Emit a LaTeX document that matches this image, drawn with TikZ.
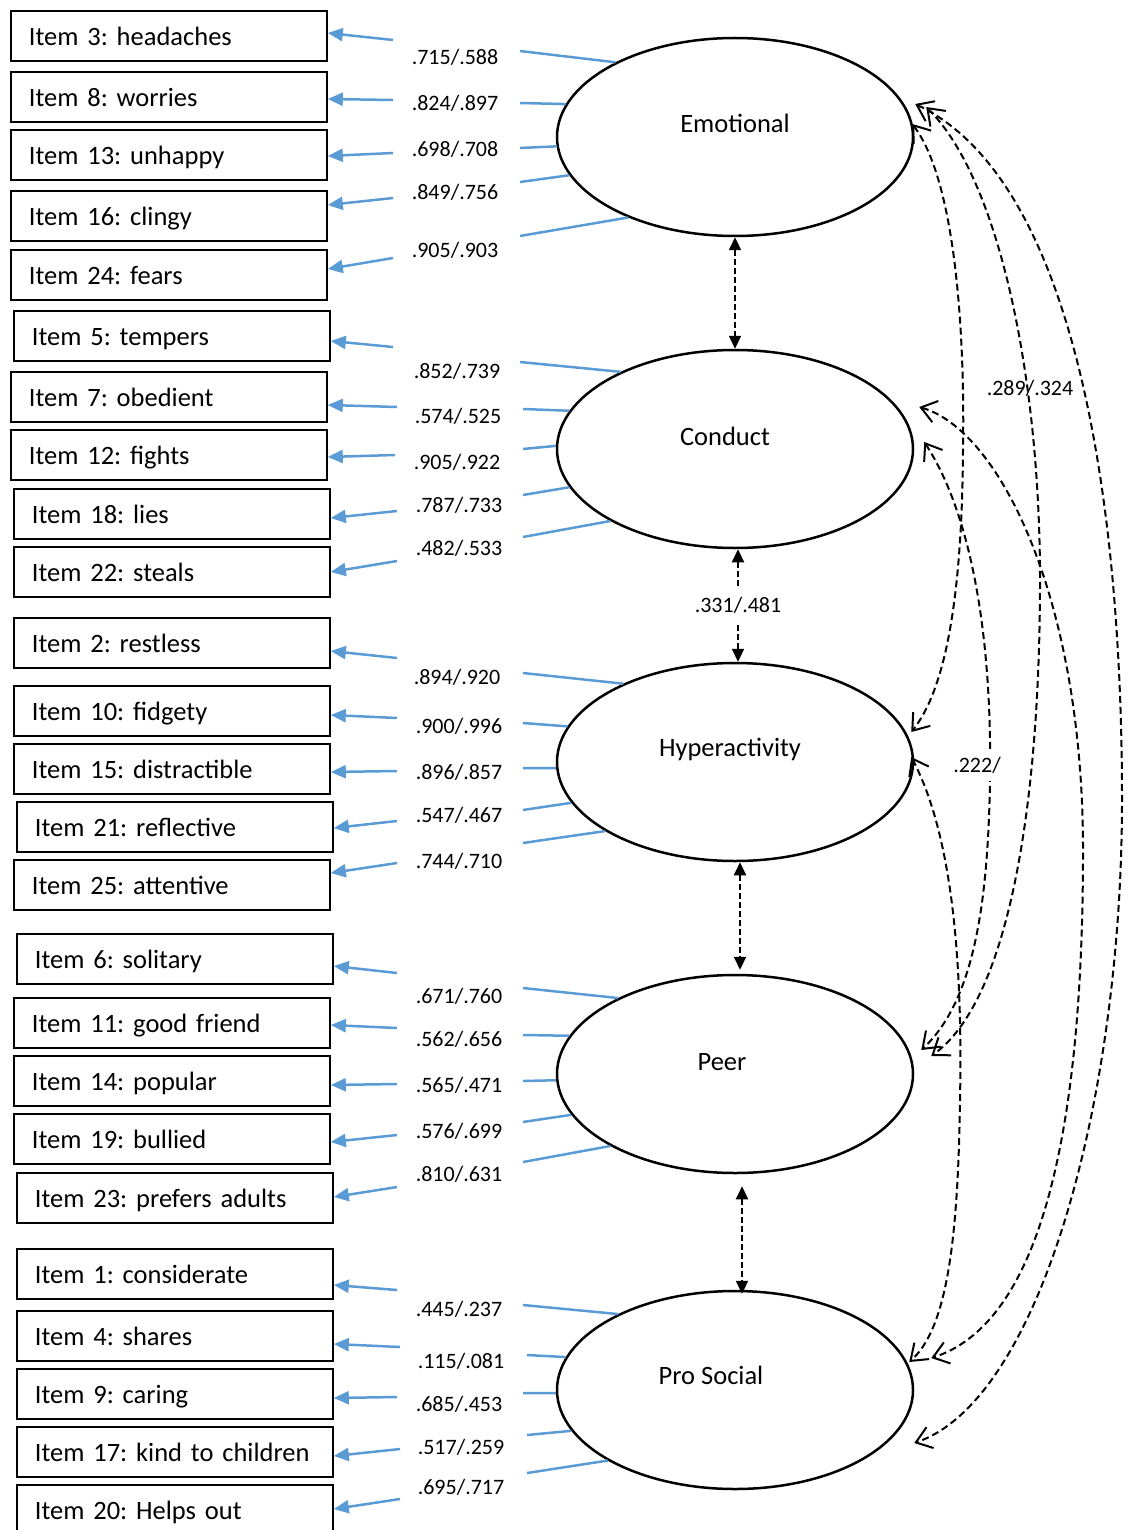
\documentclass[tikz,border=0pt]{standalone}
\usepackage{fontspec}
\setmainfont{Carlito}
\usetikzlibrary{arrows.meta,shapes.geometric,calc}
\definecolor{lblue}{HTML}{5B9BD5}
\frenchspacing
\begin{document}
\frenchspacing
\begin{tikzpicture}[x=1pt,y=-1pt,
  itembox/.style={draw, line width=1.8pt, minimum height=50pt, text width=280pt, align=left, inner xsep=18pt, inner ysep=0pt, anchor=north west, text height=21pt, text depth=1pt, font=\fontsize{26.5}{30}\selectfont},
  lat/.style={ellipse, draw, line width=2.5pt, minimum width=356pt, minimum height=198pt, inner sep=0pt},
  latlbl/.style={font=\fontsize{26.5}{30}\selectfont},
  load/.style={lblue, line width=2.5pt},
  loadarr/.style={lblue, line width=2.5pt, -{Triangle[length=15pt,width=13pt]}},
  coef/.style={font=\fontsize{22}{26}\selectfont, inner sep=1pt},
  vcov/.style={black, line width=2.2pt, dash pattern=on 6pt off 3pt, {Triangle[length=13pt,width=12pt]}-{Triangle[length=13pt,width=12pt]}},
  cov/.style={black, line width=2pt, dash pattern=on 7pt off 4pt, {Straight Barb[length=15pt,width=22pt]}-{Straight Barb[length=15pt,width=22pt]}}
]
\useasboundingbox (0,0) rectangle (1130,1530);

% latent variables
\node[lat] (emo)  at (735,137)  {};
\node[lat] (con)  at (735,449)  {};
\node[lat] (hyp)  at (735,762)  {};
\node[lat] (peer) at (735,1074) {};
\node[lat] (pro)  at (735,1390) {};
\node[latlbl] (emoT)  at (735,123)  {Emotional};
\node[latlbl] (conT)  at (725,436)  {Conduct};
\node[latlbl] (hypT)  at (730,749)  {Hyperactivity};
\node[latlbl] (peerT) at (722,1062) {Peer};
\node[latlbl] (proT)  at (711,1375) {Pro Social};

% item boxes
\foreach \n/\bx/\by/\txt in {
 3/10/10/{Item 3: headaches}, 8/10/71/{Item 8: worries}, 13/10/129/{Item 13: unhappy},
 16/10/190/{Item 16: clingy}, 24/10/249/{Item 24: fears},
 5/13/310/{Item 5: tempers}, 7/10/371/{Item 7: obedient}, 12/10/429/{Item 12: fights},
 18/13/488/{Item 18: lies}, 22/13/546/{Item 22: steals},
 2/13/617/{Item 2: restless}, 10/13/685/{Item 10: fidgety}, 15/13/743/{Item 15: distractible},
 21/16/801/{Item 21: reflective}, 25/13/859/{Item 25: attentive},
 6/16/933/{Item 6: solitary}, 11/13/997/{Item 11: good friend}, 14/13/1055/{Item 14: popular},
 19/13/1113/{Item 19: bullied}, 23/16/1172/{Item 23: prefers adults},
 1/16/1248/{Item 1: considerate}, 4/16/1310/{Item 4: shares}, 9/16/1368/{Item 9: caring},
 17/16/1426/{Item 17: kind to children}, 20/16/1484/{Item 20: Helps out}}
 {\node[itembox] (b\n) at (\bx,\by) {\txt};}

% loadings
\foreach \n/\lat/\ang/\bxx/\byy/\cx/\cy/\dy/\lx/\ly/\val in {
 3/emo/148/520/51/393/40/33/455/57/{.715/.588},
 8/emo/169/520/103/393/100/99/455/103/{.824/.897},
 13/emo/183/520/148/393/153/156/455/149/{.698/.708},
 16/emo/193/520/182/393/198/205/455/192/{.849/.756},
 24/emo/217/520/236/393/258/269/455/250/{.905/.903},
 5/con/146/520/362/393/347/341/457/371/{.852/.739},
 7/con/167/523/409/397/407/405/458/416/{.574/.525},
 12/con/179/523/449/395/455/457/457/462/{.905/.922},
 18/con/193.5/523/495/397/511/518/459/505/{.787/.733},
 22/con/210/523/537/397/561/572/459/548/{.482/.533},
 2/hyp/145/523/673/397/658/651/457/677/{.894/.920},
 10/hyp/168/523/723/397/718/715/459/726/{.900/.996},
 15/hyp/182/523/768/397/771/772/459/772/{.896/.857},
 21/hyp/194/523/810/397/821/828/459/815/{.547/.467},
 25/hyp/208/523/843/397/863/873/459/861/{.744/.710},
 6/peer/147/523/988/397/973/966/459/996/{.671/.760},
 11/peer/167/523/1035/397/1028/1025/459/1039/{.562/.656},
 14/peer/182/523/1081/397/1084/1085/459/1085/{.565/.471},
 19/peer/194/523/1122/397/1135/1142/459/1131/{.576/.699},
 23/peer/210/523/1162/397/1187/1197/459/1174/{.810/.631},
 1/pro/147/523/1305/397/1290/1285/459/1309/{.445/.237},
 4/pro/169/527/1355/400/1347/1344/461/1361/{.115/.081},
 9/pro/181/523/1393/397/1397/1398/459/1404/{.685/.453},
 17/pro/194/527/1435/400/1449/1456/461/1447/{.517/.259},
 20/pro/209/527/1473/400/1499/1509/461/1487/{.695/.717}}
{
 \coordinate (li\n) at (\bxx,\byy);
 \coordinate (lo\n) at (\cx,\cy);
 \coordinate (ld\n) at (0,\dy);
 \draw[load] (\lat.\ang) -- (li\n);
 \draw[loadarr] (lo\n) -- (b\n.east |- ld\n);
 \node[coef] (lv\n) at (\lx,\ly) {\val};
}

% adjacent factor covariances
\draw[vcov] (emo.south) -- (con.north);
\draw[vcov] ($(con.south)+(3,0)$) -- node[coef, fill=white, inner ysep=10pt] (c1) {.331/.481} ($(hyp.north)+(3,0)$);
\draw[vcov] ($(hyp.south)+(5,0)$) -- ($(peer.north)+(5,-4)$);
\draw[vcov] ($(peer.south)+(7,12)$) -- ($(pro.north)+(7,4)$);

% long covariances
\draw[cov] ($(emo.east)+(-2,-13)$) .. controls (955,180) and (965,330) .. (963,450)
   .. controls (962,600) and (945,690) .. ($(hyp.east)+(-3,-30)$);
\draw[cov] ($(emo.east)+(12,-30)$) .. controls (1000,180) and (1040,380) .. (1040,580)
   .. controls (1040,800) and (1010,1000) .. ($(peer.east)+(17,-18)$);
\draw[cov] ($(emo.east)+(1,-33)$) .. controls (1075,180) and (1122,500) .. (1122,800)
   .. controls (1122,1100) and (1040,1400) .. ($(pro.east)+(0,53)$);
\draw[cov] ($(con.east)+(10,-7)$) .. controls (975,520) and (992,650) .. (990,780)
   .. controls (988,900) and (975,1000) .. ($(peer.east)+(7,-24)$);
\draw[cov] ($(con.east)+(5,-42)$) .. controls (1000,430) and (1083,600) .. (1083,850)
   .. controls (1083,1100) and (1050,1320) .. ($(pro.east)+(17,-32)$);
\draw[cov] ($(hyp.east)+(-3,-5)$) .. controls (950,830) and (963,950) .. (960,1100)
   .. controls (958,1250) and (945,1330) .. ($(pro.east)+(-5,-28)$);

\node[coef] (c2) at (1030,388) {.289/.324};
\node[coef, fill=white, inner ysep=8pt] (c3) at (977,765) {.222/};
\end{tikzpicture}
\end{document}
